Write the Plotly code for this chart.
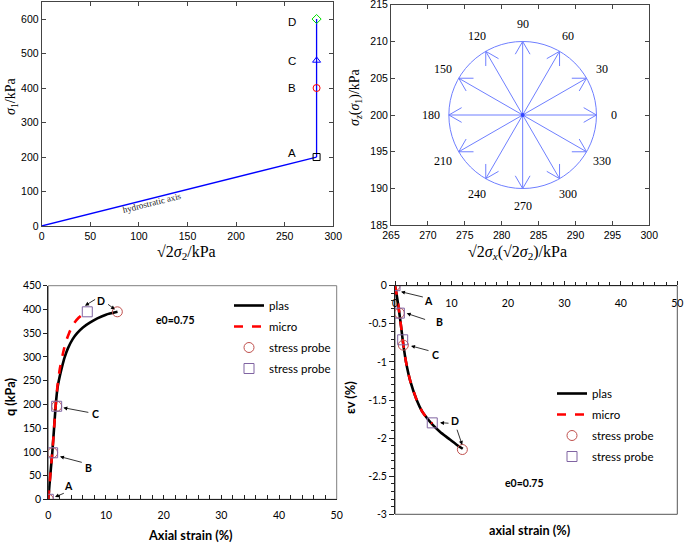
import numpy as np
import plotly.graph_objects as go

# ---------------- Panel 1: stress path in rendulic plane ----------------
hydro_x = [0, 282.8]
hydro_y = [0, 200]
path_x = [282.8, 282.8]
path_y = [200, 600]
probe_names = ["A", "B", "C", "D"]
probe_x = [282.8, 282.8, 282.8, 282.8]
probe_s1 = [200, 400, 480, 600]
probe_symbols = ["square-open", "circle-open", "triangle-up-open", "diamond-open"]
probe_colors = ["#000000", "#ff0000", "#0000ff", "#00dd00"]
probe_label_x = [257, 257, 257, 257]
probe_label_y = [212, 400, 477, 590]
p1_xticks = [0, 50, 100, 150, 200, 250, 300]
p1_yticks = [0, 100, 200, 300, 400, 500, 600]

# ---------------- Panel 2: stress probes ----------------
probe_center_x = 282.84
probe_center_y = 200.0
probe_radius = 10.0
probe_angles = [0, 30, 60, 90, 120, 150, 180, 210, 240, 270, 300, 330]
angle_label_r = 12.4
p2_xticks = [265, 270, 275, 280, 285, 290, 295, 300]
p2_yticks = [185, 190, 195, 200, 205, 210, 215]

# ---------------- Panel 3: q vs axial strain ----------------
plas_ea = [0, 0.2, 0.45, 0.7, 1.0, 1.3, 1.6, 2.0, 2.4, 2.8, 3.4, 4.2, 5.0, 6.0, 7.2, 8.5, 10.0, 12.0]
plas_q = [0, 30, 65, 100, 150, 200, 235, 260, 280, 298, 318, 337, 350, 362, 372, 381, 389, 395]
micro_ea = [0, 0.2, 0.45, 0.7, 1.0, 1.3, 1.6, 2.0, 2.5, 3.0, 3.6, 4.4, 5.3, 6.0, 6.7]
micro_q = [0, 30, 65, 100, 150, 200, 240, 275, 305, 330, 350, 370, 383, 390, 395]
circ_ea = [0, 0.75, 1.45, 11.97]
circ_q = [0, 98, 196, 395]
sq_ea = [0, 0.75, 1.45, 6.76]
sq_q = [0, 98, 196, 395]
p3_xticks = [0, 10, 20, 30, 40, 50]
p3_yticks = [0, 50, 100, 150, 200, 250, 300, 350, 400, 450]
# annotation labels (text pos) and arrows (tail -> head)
p3_lab_text = ["A", "B", "C", "D"]
p3_lab_x = [3.47, 6.94, 8.1, 9.13]
p3_lab_y = [28, 65, 179, 418]
p3_arr_tail_x = [2.95, 6.07, 7.2, 8.38, 10.1]
p3_arr_tail_y = [14, 77, 182.5, 423, 413]
p3_arr_head_x = [1.16, 2.02, 2.6, 6.36, 11.56]
p3_arr_head_y = [4.9, 90, 193, 408, 400]

# ---------------- Panel 4: volumetric strain vs axial strain ----------------
plas_ea4 = [0, 0.3, 0.77, 1.05, 1.45, 1.95, 2.7, 3.84, 4.8, 5.8, 6.6, 8.0, 9.4, 10.8, 12.0]
plas_ev = [0, -0.12, -0.36, -0.52, -0.76, -1.0, -1.25, -1.5, -1.65, -1.75, -1.82, -1.92, -2.0, -2.08, -2.14]
micro_ea4 = [0, 0.3, 0.77, 1.05, 1.45, 1.95, 2.7, 3.84, 4.8, 5.8, 6.6]
micro_ev = [0, -0.12, -0.36, -0.52, -0.76, -1.0, -1.25, -1.5, -1.65, -1.75, -1.81]
circ_ea4 = [0, 0.77, 1.48, 11.93]
circ_ev = [0, -0.36, -0.78, -2.15]
sq_ea4 = [0, 0.77, 1.36, 6.6]
sq_ev = [0, -0.36, -0.71, -1.80]
p4_xticks = [0, 10, 20, 30, 40, 50]
p4_yticks = [0, -0.5, -1, -1.5, -2, -2.5, -3]
p4_yticktext = ["0", "-0.5", "-1", "-1.5", "-2", "-2.5", "-3"]
p4_lab_text = ["A", "B", "C", "D"]
p4_lab_x = [5.9, 7.85, 7.2, 10.6]
p4_lab_y = [-0.197, -0.48, -0.91, -1.78]
p4_arr_tail_x = [5.2, 5.6, 6.2, 9.74, 10.9]
p4_arr_tail_y = [-0.153, -0.45, -0.857, -1.806, -1.87]
p4_arr_head_x = [1.06, 2.07, 2.83, 7.97, 11.9]
p4_arr_head_y = [-0.079, -0.363, -0.79, -1.797, -2.09]

W, H = 685, 543
def px2paper_x(p):
    return p / W
def px2paper_y(p):
    return (H - p) / H

fig = go.Figure()

# ---- Panel 1 traces
fig.add_trace(go.Scatter(x=hydro_x, y=hydro_y, mode="lines", line=dict(color="#0000ff", width=1.3),
                         xaxis="x", yaxis="y", showlegend=False))
fig.add_trace(go.Scatter(x=path_x, y=path_y, mode="lines", line=dict(color="#0000ff", width=1.3),
                         xaxis="x", yaxis="y", showlegend=False))
for i in range(len(probe_names)):
    fig.add_trace(go.Scatter(x=[probe_x[i]], y=[probe_s1[i]], mode="markers",
                             marker=dict(symbol=probe_symbols[i], color=probe_colors[i], size=7,
                                         line=dict(width=1)),
                             xaxis="x", yaxis="y", showlegend=False))

# ---- Panel 2 traces
ang = np.deg2rad(probe_angles)
sx, sy = [], []
wing_len = 2.0
for a in ang:
    tx = probe_center_x + probe_radius * np.cos(a)
    ty = probe_center_y + probe_radius * np.sin(a)
    sx += [probe_center_x, tx, None]
    sy += [probe_center_y, ty, None]
    for d in (np.pi - np.pi / 6, np.pi + np.pi / 6):
        sx += [tx, tx + wing_len * np.cos(a + d), None]
        sy += [ty, ty + wing_len * np.sin(a + d), None]
fig.add_trace(go.Scatter(x=sx, y=sy, mode="lines", line=dict(color="#6f7fff", width=1),
                         xaxis="x2", yaxis="y2", showlegend=False))
fig.add_trace(go.Scatter(x=[probe_center_x], y=[probe_center_y], mode="markers",
                         marker=dict(color="#3344ff", size=4), xaxis="x2", yaxis="y2", showlegend=False))

# ---- Panel 3 traces
fig.add_trace(go.Scatter(x=plas_ea, y=plas_q, mode="lines", name="plas", line=dict(color="black", width=2.6, shape="spline", smoothing=0.6),
                         xaxis="x3", yaxis="y3", legend="legend", legendgroup="a"))
fig.add_trace(go.Scatter(x=micro_ea, y=micro_q, mode="lines", name="micro", line=dict(color="#ff0000", width=2.6, dash="dash", shape="spline", smoothing=0.6),
                         xaxis="x3", yaxis="y3", legend="legend", legendgroup="b"))
fig.add_trace(go.Scatter(x=circ_ea, y=circ_q, mode="markers", name="stress probe",
                         marker=dict(symbol="circle-open", color="#c0504d", size=10, line=dict(width=1)),
                         xaxis="x3", yaxis="y3", legend="legend", legendgroup="c"))
fig.add_trace(go.Scatter(x=sq_ea, y=sq_q, mode="markers", name="stress probe",
                         marker=dict(symbol="square-open", color="#8064a2", size=10, line=dict(width=1)),
                         xaxis="x3", yaxis="y3", legend="legend", legendgroup="d"))

# ---- Panel 4 traces
fig.add_trace(go.Scatter(x=plas_ea4, y=plas_ev, mode="lines", name="plas", line=dict(color="black", width=2.6, shape="spline", smoothing=0.6),
                         xaxis="x4", yaxis="y4", legend="legend2", legendgroup="a"))
fig.add_trace(go.Scatter(x=micro_ea4, y=micro_ev, mode="lines", name="micro", line=dict(color="#ff0000", width=2.6, dash="dash", shape="spline", smoothing=0.6),
                         xaxis="x4", yaxis="y4", legend="legend2", legendgroup="b"))
fig.add_trace(go.Scatter(x=circ_ea4, y=circ_ev, mode="markers", name="stress probe",
                         marker=dict(symbol="circle-open", color="#c0504d", size=10, line=dict(width=1)),
                         xaxis="x4", yaxis="y4", legend="legend2", legendgroup="c"))
fig.add_trace(go.Scatter(x=sq_ea4, y=sq_ev, mode="markers", name="stress probe",
                         marker=dict(symbol="square-open", color="#8064a2", size=10, line=dict(width=1)),
                         xaxis="x4", yaxis="y4", legend="legend2", legendgroup="d"))

top_tick_font = dict(family="Liberation Sans, Arial", size=10.5, color="black")
bot_tick_font = dict(family="Lato, Open Sans", size=10.5, color="black")
matlab_axis = dict(showgrid=False, zeroline=False, showline=True, linecolor="#444", linewidth=1,
                   mirror="ticks", ticks="inside", ticklen=4, tickcolor="#444", tickfont=top_tick_font,
                   automargin=False, ticklabeloverflow="allow")

annotations = []
shapes = []

def ann(**kw):
    kw.setdefault("showarrow", False)
    kw.setdefault("xanchor", "center")
    kw.setdefault("yanchor", "middle")
    annotations.append(kw)

# panel 1 annotations
for i in range(len(probe_names)):
    ann(x=probe_label_x[i], y=probe_label_y[i], xref="x", yref="y", text=probe_names[i],
        font=dict(family="Liberation Sans, Arial", size=11.5, color="black"))
ann(x=113, y=66, xref="x", yref="y", text="hydrostratic axis", textangle=-14,
    font=dict(family="Liberation Serif", size=9, color="#222"))

# panel 2 angle labels
for a_deg, a in zip(probe_angles, ang):
    ann(x=probe_center_x + angle_label_r * np.cos(a), y=probe_center_y + angle_label_r * np.sin(a),
        xref="x2", yref="y2", text=str(a_deg), font=dict(family="Liberation Serif", size=12, color="black"))

# panel 3/4 letter labels & arrows
lab_font = dict(family="Lato, Open Sans", size=10.5, color="black")
for t, x, y in zip(p3_lab_text, p3_lab_x, p3_lab_y):
    ann(x=x, y=y, xref="x3", yref="y3", text="<b>%s</b>" % t, font=lab_font)
for tx, ty, hx, hy in zip(p3_arr_tail_x, p3_arr_tail_y, p3_arr_head_x, p3_arr_head_y):
    annotations.append(dict(x=hx, y=hy, ax=tx, ay=ty, xref="x3", yref="y3", axref="x3", ayref="y3", text="",
                            showarrow=True, arrowhead=2, arrowsize=1, arrowwidth=0.8, arrowcolor="black"))
for t, x, y in zip(p4_lab_text, p4_lab_x, p4_lab_y):
    ann(x=x, y=y, xref="x4", yref="y4", text="<b>%s</b>" % t, font=lab_font)
for tx, ty, hx, hy in zip(p4_arr_tail_x, p4_arr_tail_y, p4_arr_head_x, p4_arr_head_y):
    annotations.append(dict(x=hx, y=hy, ax=tx, ay=ty, xref="x4", yref="y4", axref="x4", ayref="y4", text="",
                            showarrow=True, arrowhead=2, arrowsize=1, arrowwidth=0.8, arrowcolor="black"))
ann(x=22, y=378, xref="x3", yref="y3", text="<b>e0=0.75</b>", font=lab_font)
ann(x=23, y=-2.59, xref="x4", yref="y4", text="<b>e0=0.75</b>", font=lab_font)

# axis titles
serif = dict(family="Liberation Serif", size=16, color="black")
serif_y = dict(family="Liberation Serif", size=14, color="black")
bold_title = dict(family="Lato, Open Sans", size=12.7, color="black")
ann(x=px2paper_x(187), y=px2paper_y(252), xref="paper", yref="paper", text="√2<i>σ</i><sub>2</sub>/kPa", font=serif)
ann(x=px2paper_x(11), y=px2paper_y(97), xref="paper", yref="paper", text="<i>σ</i><sub>1</sub>/kPa",
    font=serif_y, textangle=-90)
ann(x=px2paper_x(517), y=px2paper_y(252), xref="paper", yref="paper",
    text="√2<i>σ</i><sub><i>x</i></sub>(√2<i>σ</i><sub>2</sub>)/kPa", font=serif)
ann(x=px2paper_x(355), y=px2paper_y(97), xref="paper", yref="paper",
    text="<i>σ</i><sub><i>z</i></sub>(<i>σ</i><sub>1</sub>)/kPa", font=serif_y, textangle=-90)
ann(x=px2paper_x(190), y=px2paper_y(535), xref="paper", yref="paper", text="<b>Axial strain (%)</b>", font=bold_title)
ann(x=px2paper_x(10), y=px2paper_y(397), xref="paper", yref="paper", text="<b>q (kPa)</b>",
    font=bold_title, textangle=-90)
ann(x=px2paper_x(530), y=px2paper_y(530), xref="paper", yref="paper", text="<b>axial strain (%)</b>", font=bold_title)
ann(x=px2paper_x(350), y=px2paper_y(398), xref="paper", yref="paper", text="<b>εv (%)</b>",
    font=bold_title, textangle=-90)

# circle in panel 2
shapes.append(dict(type="circle", xref="x2", yref="y2",
                   x0=probe_center_x - probe_radius, x1=probe_center_x + probe_radius,
                   y0=probe_center_y - probe_radius, y1=probe_center_y + probe_radius,
                   line=dict(color="#6f7fff", width=1)))
# gray frames for bottom panels
shapes.append(dict(type="rect", xref="x3 domain", yref="y3 domain", x0=0, x1=1, y0=0, y1=1,
                   line=dict(color="#7f7f7f", width=1), layer="below"))
shapes.append(dict(type="rect", xref="x4 domain", yref="y4 domain", x0=0, x1=1, y0=0, y1=1,
                   line=dict(color="#555", width=1), layer="below"))

legend_common = dict(xanchor="left", yanchor="top", bgcolor="rgba(0,0,0,0)", borderwidth=0,
                     font=dict(family="Lato, Open Sans", size=11.5, color="black"), tracegroupgap=2,
                     itemwidth=30)

bot_common = dict(showgrid=False, zeroline=False, showline=True, linecolor="#222", linewidth=1,
                  tickcolor="#222", tickfont=bot_tick_font, automargin=False)

fig.update_layout(
    width=W, height=H, margin=dict(l=0, r=0, t=0, b=0, autoexpand=False),
    paper_bgcolor="white", plot_bgcolor="white",
    xaxis=dict(domain=[px2paper_x(41.7), px2paper_x(333.3)], range=[0, 300], tickvals=p1_xticks, anchor="y", **matlab_axis),
    yaxis=dict(domain=[px2paper_y(226), px2paper_y(1.8)], range=[0, 650], tickvals=p1_yticks, anchor="x", **matlab_axis),
    xaxis2=dict(domain=[px2paper_x(391), px2paper_x(649.3)], range=[265, 300], tickvals=p2_xticks, anchor="y2", **matlab_axis),
    yaxis2=dict(domain=[px2paper_y(225.3), px2paper_y(4.7)], range=[185, 215], tickvals=p2_yticks, anchor="x2", **matlab_axis),
    xaxis3=dict(domain=[px2paper_x(48.3), px2paper_x(336.7)], range=[0, 50], tickvals=p3_xticks, anchor="y3",
                ticks="inside", ticklen=4, ticklabelstandoff=6,
                minor=dict(dtick=2, ticks="inside", ticklen=4, tickcolor="#222"), **bot_common),
    yaxis3=dict(domain=[px2paper_y(499.3), px2paper_y(285.7)], range=[0, 450], tickvals=p3_yticks, anchor="x3",
                ticks="outside", ticklen=4, **bot_common),
    xaxis4=dict(domain=[px2paper_x(395), px2paper_x(677.3)], range=[0, 50], tickvals=p4_xticks, anchor="y4",
                side="top", ticklabelposition="inside", ticklabeloverflow="allow", ticklabelstandoff=13,
                ticks="outside", ticklen=4,
                minor=dict(dtick=2, ticks="outside", ticklen=3, tickcolor="#222"), **bot_common),
    yaxis4=dict(domain=[px2paper_y(514.3), px2paper_y(285.7)], range=[-3, 0], tickvals=p4_yticks, ticktext=p4_yticktext,
                anchor="x4", ticks="outside", ticklen=5,
                minor=dict(dtick=0.1, ticks="outside", ticklen=3, tickcolor="#222"), **bot_common),
    legend=dict(x=px2paper_x(229), y=px2paper_y(291), **legend_common),
    legend2=dict(x=px2paper_x(552), y=px2paper_y(379), **legend_common),
    annotations=annotations, shapes=shapes,
)

fig.write_html("out.html", config={"displayModeBar": False},
               post_script="document.body.style.margin='0px';document.body.style.overflow='hidden';")
